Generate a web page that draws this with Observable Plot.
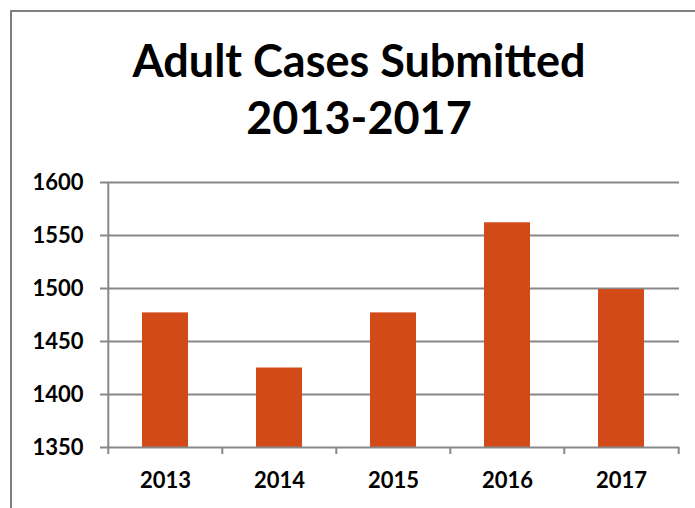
<!DOCTYPE html>
<html>
<head>
<meta charset="utf-8">
<script src="https://cdn.jsdelivr.net/npm/d3@7"></script>
<script src="https://cdn.jsdelivr.net/npm/@observablehq/plot@0.6"></script>
<style>
  html, body { margin: 0; padding: 0; background: #fff; overflow: hidden; }
  body { width: 695px; height: 508px; position: relative; font-family: Lato, "Open Sans", sans-serif; }
  #border { position: absolute; left: 10px; top: 10px; width: 700px; height: 510px;
            border-top: 2px solid #7f7f7f; border-left: 2px solid #7f7f7f; }
  .title { position: absolute; left: 0; width: 718px; text-align: center; font-weight: 700;
           font-size: 45px; color: #000; line-height: 1; white-space: nowrap; }
  #chart { position: absolute; left: 0; top: 150px; }
</style>
</head>
<body>
<div id="border"></div>
<div class="title" id="t1"></div>
<div class="title" id="t2"></div>
<div id="chart"></div>
<script>
const titleLines = ["Adult Cases Submitted", "2013-2017"];
const years = ["2013", "2014", "2015", "2016", "2017"];
const values = [1477, 1425, 1477, 1562, 1499];
const yTicks = [1350, 1400, 1450, 1500, 1550, 1600];

document.getElementById("t1").textContent = titleLines[0];
document.getElementById("t2").textContent = titleLines[1];
document.getElementById("t1").style.top = "38px";
document.getElementById("t2").style.top = "95px";

const data = years.map((year, i) => ({year, value: values[i]}));

const W = 695, H = 358, mL = 107, mR = 16, mT = 32, mB = 61;
const step = (W - mL - mR) / years.length;
const gray = "#878787";
const barColor = "#D34A19";
const yMin = yTicks[0], yMax = yTicks[yTicks.length - 1];
const fs = 22;

const chart = Plot.plot({
  width: W,
  height: H,
  marginLeft: mL,
  marginRight: mR,
  marginTop: mT,
  marginBottom: mB,
  style: {fontFamily: "Lato, 'Open Sans', sans-serif", fontWeight: "700", fontSize: fs + "px", color: "#000", background: "transparent"},
  x: {domain: years, paddingInner: 0.6, paddingOuter: 0.3, label: null},
  y: {domain: [yMin, yMax], label: null},
  marks: [
    Plot.gridY(yTicks.slice(1), {stroke: gray, strokeOpacity: 1, strokeWidth: 2}),
    Plot.barY(data, {x: "year", y1: yMin, y2: "value", fill: barColor}),
    Plot.ruleY([yMin], {stroke: gray, strokeWidth: 2}),
    Plot.ruleX([years[0]], {y1: yMin, y2: yMax, dx: -step / 2, stroke: gray, strokeWidth: 2}),
    Plot.axisY(yTicks, {tickSize: 7, tickPadding: 17, tickFormat: "d", stroke: gray, strokeWidth: 2, fill: "#000", fontSize: fs, fontWeight: 700, label: null}),
    Plot.axisX(years, {tickSize: 7, dx: -step / 2, text: null, stroke: gray, strokeWidth: 2, label: null}),
    Plot.axisX([years[years.length - 1]], {tickSize: 7, dx: step / 2, text: null, stroke: gray, strokeWidth: 2, label: null}),
    Plot.axisX(years, {tickSize: 0, tickPadding: 25, fill: "#000", fontSize: fs, fontWeight: 700, label: null})
  ]
});
document.getElementById("chart").appendChild(chart);
</script>
</body>
</html>
